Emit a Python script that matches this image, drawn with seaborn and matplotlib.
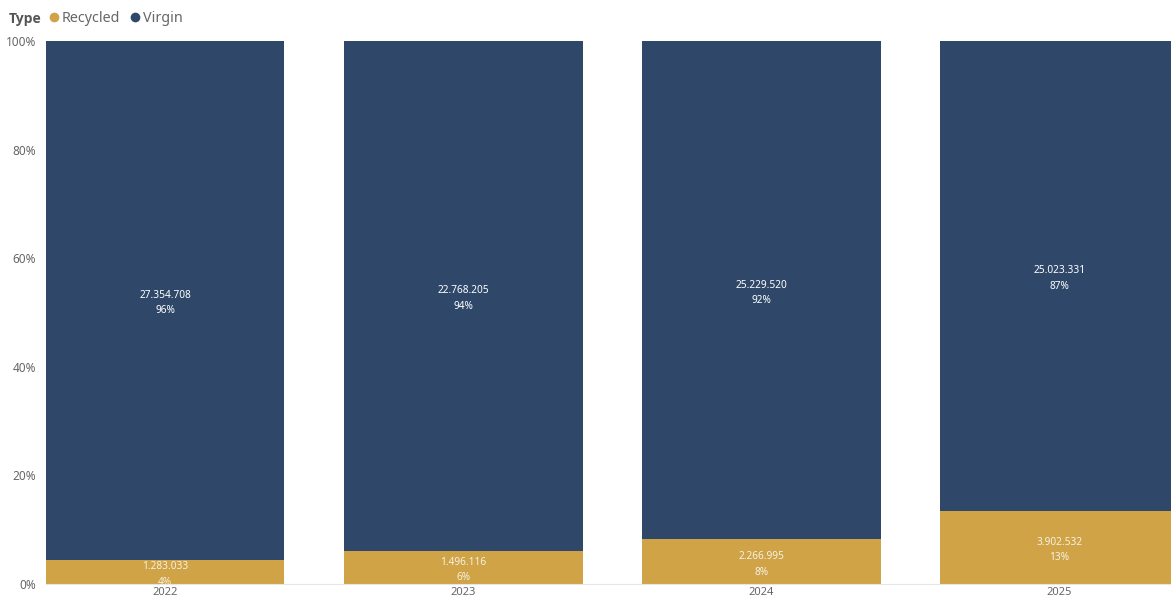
import matplotlib
matplotlib.use("Agg")
import matplotlib.pyplot as plt
from matplotlib.lines import Line2D
import seaborn as sns
import pandas as pd

# Material volumes by year and type
years = ["2022", "2023", "2024", "2025"]
recycled = [1283033, 1496116, 2266995, 3902532]
virgin = [27354708, 22768205, 25229520, 25023331]
y_ticks = [0, 20, 40, 60, 80, 100]

COL_RECYCLED = "#CFA346"
COL_VIRGIN = "#2F4869"
GREY = "#666666"

sns.set_theme(style="white")
plt.rcParams["font.family"] = ["Noto Sans", "DejaVu Sans"]

totals = [r + v for r, v in zip(recycled, virgin)]
df = pd.DataFrame({
    "Year": years,
    "Recycled": [100 * r / t for r, t in zip(recycled, totals)],
    "Virgin": [100 * v / t for v, t in zip(virgin, totals)],
})
df["Total"] = df["Recycled"] + df["Virgin"]

fig = plt.figure(figsize=(11.71, 5.99), dpi=100)
ax = fig.add_axes([46 / 1171, 15 / 599, 1 - 46 / 1171, (584 - 41) / 599])

# 100% stacked columns: virgin on top of recycled
sns.barplot(data=df, x="Year", y="Total", order=years, color=COL_VIRGIN,
            saturation=1, width=0.8, ax=ax, linewidth=0)
sns.barplot(data=df, x="Year", y="Recycled", order=years, color=COL_RECYCLED,
            saturation=1, width=0.8, ax=ax, linewidth=0)

def fmt(n):
    return f"{n:,}".replace(",", ".")

for i, (r, v) in enumerate(zip(recycled, virgin)):
    rp = df["Recycled"][i]
    vp = df["Virgin"][i]
    ax.text(i, rp + vp / 2 - 0.5, f"{fmt(v)}\n{round(vp):.0f}%", ha="center",
            va="center", color="white", fontsize=7.3, linespacing=1.55)
    ax.text(i, rp / 2 - 0.5, f"{fmt(r)}\n{round(rp):.0f}%", ha="center",
            va="center", color="#F6F1E4", fontsize=7.3, linespacing=1.55)

ax.set_xlim(-0.4, (1171 - 165.5) / 298)
ax.set_ylim(0, 100)
ax.set_yticks(y_ticks)
ax.set_yticklabels([f"{t}%" for t in y_ticks])
ax.set_xlabel("")
ax.set_ylabel("")
ax.tick_params(axis="y", length=0, labelsize=8.5, labelcolor=GREY, pad=7)
ax.tick_params(axis="x", length=2, color="#CCCCCC", labelsize=8,
               labelcolor=GREY, pad=0.5)
for side in ["top", "right", "left"]:
    ax.spines[side].set_visible(False)
ax.spines["bottom"].set_color("#E6E6E6")
ax.spines["bottom"].set_linewidth(0.8)
ax.grid(False)

# Legend row at the top left
fig.text(9 / 1171, 1 - 19 / 599, "Type", fontsize=10, fontweight="bold",
         family=["Open Sans", "DejaVu Sans"],
         color="#555555", va="center", ha="left")
handles = [
    Line2D([], [], marker="o", linestyle="", markersize=7,
           markerfacecolor=COL_RECYCLED, markeredgewidth=0, label="Recycled"),
    Line2D([], [], marker="o", linestyle="", markersize=7,
           markerfacecolor=COL_VIRGIN, markeredgewidth=0, label="Virgin"),
]
fig.legend(handles=handles, loc="center left",
           bbox_to_anchor=(47 / 1171, 1 - 19 / 599), ncol=2, frameon=False,
           fontsize=10.3, labelcolor=GREY, handletextpad=0.0,
           columnspacing=0.6, handlelength=1.0, borderaxespad=0,
           borderpad=0)

fig.savefig("out.png", dpi=100)
